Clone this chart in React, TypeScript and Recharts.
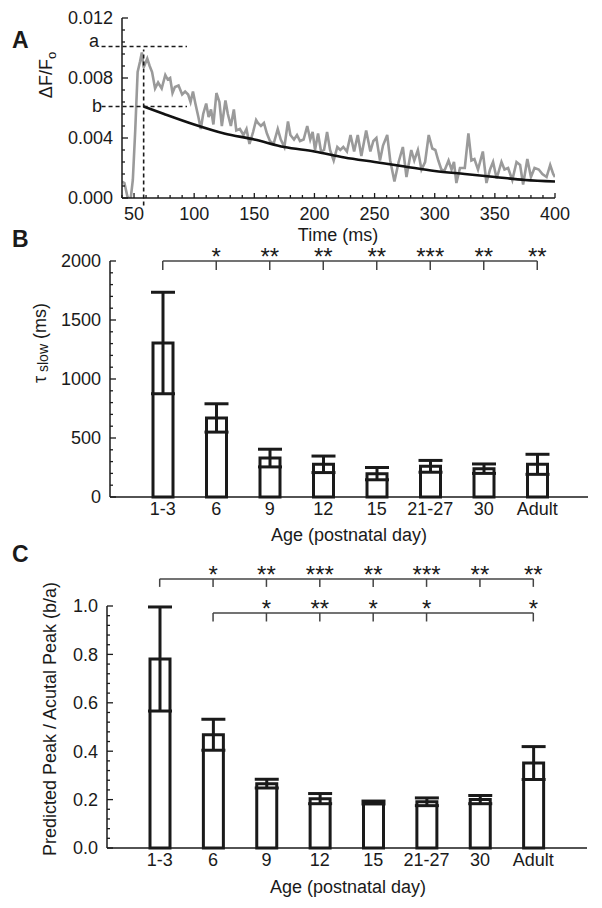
import React from 'react'
import {
  LineChart, Line, BarChart, Bar, ErrorBar, XAxis, YAxis,
  ReferenceLine, ReferenceDot,
} from 'recharts'

const FONT = '"Liberation Sans", Arial, Helvetica, sans-serif'
const INK = '#1a1a1a'

// ---- panel A: ΔF/Fo transient (ms, ΔF/Fo) ----
const traceTime = [
  40, 42, 44.5, 47, 49, 51, 53, 55, 56.5, 58, 61, 63, 65, 67.5, 70, 73, 76, 78, 80, 82,
  84, 87, 90, 92.5, 95, 97, 99, 101, 103.5, 105.5, 107.5, 110, 112, 114, 116, 118.5, 121, 123, 126, 128,
  130.5, 133, 135, 138, 141, 143.5, 146, 149, 151.5, 153, 155.5, 158, 160.5, 163, 166, 169.5, 172, 175, 178, 180,
  183, 185.5, 188, 191, 194, 196.5, 198.5, 200.5, 203, 205.5, 208, 210.5, 213, 216, 219, 221.5, 224, 227, 230, 233,
  236, 239, 243, 246.5, 249, 251.5, 254.5, 257, 260.5, 263, 266.5, 270, 273.5, 276.5, 280.5, 283, 286, 289, 292, 295,
  298, 300.5, 303, 305.5, 308, 311.5, 314, 316, 318, 321, 325, 328, 330.5, 333, 336, 340, 343, 346, 348.5, 351.5,
  355.5, 358, 361, 364.5, 368, 371, 373.5, 377, 380, 383, 386.5, 389.5, 393, 396, 398.5, 400,
]
const traceValue = [
  0.0011, 0.0010, 0.0001, -0.0002, 0.0012, 0.0045, 0.0084, 0.0091, 0.0097, 0.0087, 0.0093, 0.0088, 0.0084, 0.0073, 0.0077, 0.0073, 0.0082, 0.0079, 0.0080, 0.0070,
  0.0074, 0.0075, 0.0069, 0.0071, 0.0069, 0.0064, 0.0071, 0.0063, 0.0054, 0.0046, 0.0056, 0.0063, 0.0054, 0.0059, 0.0049, 0.0070, 0.0064, 0.0048, 0.0065, 0.0056,
  0.0048, 0.0059, 0.0045, 0.0046, 0.0042, 0.0046, 0.0036, 0.0044, 0.0052, 0.0050, 0.0048, 0.0050, 0.0043, 0.0038, 0.0036, 0.0046, 0.0039, 0.0034, 0.0051, 0.0042,
  0.0039, 0.0042, 0.0038, 0.0039, 0.0048, 0.0039, 0.0044, 0.0032, 0.0043, 0.0031, 0.0032, 0.0044, 0.0032, 0.0025, 0.0034, 0.0032, 0.0034, 0.0031, 0.0042, 0.0031,
  0.0042, 0.0028, 0.0045, 0.0031, 0.0038, 0.0040, 0.0025, 0.0035, 0.0042, 0.0025, 0.0011, 0.0024, 0.0034, 0.0014, 0.0032, 0.0025, 0.0032, 0.0019, 0.0024, 0.0042,
  0.0033, 0.0032, 0.0025, 0.0019, 0.0018, 0.0025, 0.0019, 0.0024, 0.0010, 0.0020, 0.0020, 0.0043, 0.0025, 0.0026, 0.0019, 0.0031, 0.0010, 0.0019, 0.0024, 0.0013,
  0.0024, 0.0019, 0.0020, 0.0012, 0.0024, 0.0022, 0.0009, 0.0026, 0.0014, 0.0020, 0.0019, 0.0016, 0.0014, 0.0022, 0.0016, 0.0014,
]
const fitTime = [58, 75, 100, 125, 150, 175, 200, 225, 250, 275, 300, 325, 350, 375, 400]
const fitValue = [0.0061, 0.0056, 0.0049, 0.0043, 0.0039, 0.0034, 0.0031, 0.0027, 0.0024, 0.0021, 0.0018, 0.0016, 0.0014, 0.0012, 0.0011]
const peakTime = 58
const peakA = 0.0101
const peakB = 0.0061

// ---- panels B and C ----
const ages = ['1-3', '6', '9', '12', '15', '21-27', '30', 'Adult']
const tauMean = [1305, 670, 330, 277, 198, 260, 240, 277]
const tauErr = [430, 120, 75, 70, 52, 50, 40, 85]
const tauStars = ['', '*', '**', '**', '**', '***', '**', '**']

const ratioMean = [0.781, 0.468, 0.266, 0.204, 0.188, 0.191, 0.2, 0.351]
const ratioErr = [0.215, 0.064, 0.018, 0.021, 0.006, 0.016, 0.017, 0.068]
const ratioStars1 = ['', '*', '**', '***', '**', '***', '**', '**']
const ratioStars2: (string | null)[] = [null, '', '*', '**', '*', '*', null, '*']

// tick marks
const timeTicks = Array.from({ length: 37 }, (_, i) => 40 + i * 10)
const dffTicks = Array.from({ length: 16 }, (_, i) => +(i * 0.0008).toFixed(4))
const tauTicks = Array.from({ length: 21 }, (_, i) => i * 100)
const ratioTicks = Array.from({ length: 26 }, (_, i) => +(i * 0.04).toFixed(2))

const traceData = traceTime.map((t, i) => ({ t, v: traceValue[i] }))
const fitData = fitTime.map((t, i) => ({ t, v: fitValue[i] }))
const tauData = ages.map((age, i) => ({ age, mean: tauMean[i], err: tauErr[i] }))
const ratioData = ages.map((age, i) => ({ age, mean: ratioMean[i], err: ratioErr[i] }))

const isStep = (step: number) => (v: number) => Math.abs(v / step - Math.round(v / step)) < 1e-6

function yTick(major: (v: number) => boolean, fmt: (v: number) => string) {
  return (props: any) => {
    const { x, y, payload } = props
    const v = payload.value
    const m = major(v)
    return (
      <g>
        <line x1={x} x2={x + (m ? 6 : 3)} y1={y} y2={y} stroke={INK} strokeWidth={1.3} />
        {m && (
          <text x={x - 9} y={y} dy="0.36em" textAnchor="end" fontSize={18} fill={INK} fontFamily={FONT}>
            {fmt(v)}
          </text>
        )}
      </g>
    )
  }
}

function timeTick(props: any) {
  const { x, y, payload } = props
  const v = payload.value
  const m = v % 50 === 0
  return (
    <g>
      <line x1={x} x2={x} y1={y} y2={y - (m ? 5 : 3)} stroke={INK} strokeWidth={1.3} />
      {m && (
        <text x={x} y={y + 22} textAnchor="middle" fontSize={18} fill={INK} fontFamily={FONT}>{v}</text>
      )}
    </g>
  )
}

function bracket(key: string, cats: string[], stars: string[], y: number, drop: number) {
  const line = { stroke: '#444', strokeWidth: 1.5, ifOverflow: 'visible' as const }
  const els = [
    <ReferenceLine key={key + 'h'} segment={[{ x: cats[0], y }, { x: cats[cats.length - 1], y }]} {...line} />,
  ]
  cats.forEach((c, i) => {
    els.push(<ReferenceLine key={key + 't' + c} segment={[{ x: c, y }, { x: c, y: y - drop }]} {...line} />)
    if (stars[i]) {
      els.push(
        <ReferenceDot
          key={key + 's' + c} x={c} y={y} r={0} ifOverflow="visible" fill="none" stroke="none"
          label={{ value: stars[i], position: 'top', offset: -4, fontSize: 24, fill: INK, fontFamily: FONT }}
        />,
      )
    }
  })
  return els
}

const axisLine = { stroke: INK, strokeWidth: 1.5 }
const dash = { stroke: INK, strokeWidth: 1.6, strokeDasharray: '4 3', ifOverflow: 'visible' as const }

function PanelA() {
  return (
    <LineChart width={602} height={250} margin={{ top: 18, right: 47, left: 0, bottom: 0 }}>
      <XAxis
        type="number" dataKey="t" domain={[40, 400]} allowDataOverflow ticks={timeTicks} interval={0}
        height={52} tickSize={0} tickMargin={0} tickLine={false} axisLine={axisLine} tick={timeTick}
      />
      <YAxis
        type="number" domain={[0, 0.012]} allowDataOverflow ticks={dffTicks} interval={0}
        width={122} tickSize={0} tickMargin={0} tickLine={false} axisLine={axisLine}
        tick={yTick(isStep(0.004), (v) => v.toFixed(3))}
      />
      <Line data={traceData} dataKey="v" type="linear" stroke="#9a9a9a" strokeWidth={2.6} dot={false} isAnimationActive={false} />
      <Line data={fitData} dataKey="v" type="monotone" stroke="#111" strokeWidth={2.6} dot={false} isAnimationActive={false} />
      <ReferenceLine segment={[{ x: 23, y: peakA }, { x: 94, y: peakA }]} {...dash} />
      <ReferenceLine segment={[{ x: 23, y: peakB }, { x: 94, y: peakB }]} {...dash} />
      <ReferenceLine segment={[{ x: peakTime, y: -0.0005 }, { x: peakTime, y: 0.0099 }]} {...dash} />
    </LineChart>
  )
}

function PanelB() {
  return (
    <BarChart width={602} height={300} data={tauData} margin={{ top: 31, right: 14, left: 0, bottom: 0 }}>
      <XAxis
        dataKey="age" height={33} padding={{ left: 26, right: 24 }} tickLine={false} tickSize={0} tickMargin={5}
        axisLine={axisLine} interval={0} tick={{ fill: INK, fontSize: 18, fontFamily: FONT }}
      />
      <YAxis
        type="number" domain={[0, 2000]} ticks={tauTicks} interval={0} width={110}
        tickSize={0} tickMargin={0} tickLine={false} axisLine={axisLine}
        tick={yTick(isStep(500), (v) => String(v))}
      />
      <Bar dataKey="mean" barSize={20} fill="#fff" stroke={INK} strokeWidth={3} isAnimationActive={false}>
        <ErrorBar dataKey="err" width={12} stroke={INK} strokeWidth={3} direction="y" />
      </Bar>
      {bracket('b', ages, tauStars, 2000, 76)}
    </BarChart>
  )
}

function PanelC() {
  const cats2 = ages.filter((_, i) => ratioStars2[i] !== null)
  const stars2 = ratioStars2.filter((s) => s !== null) as string[]
  return (
    <BarChart width={602} height={340} data={ratioData} margin={{ top: 66, right: 15, left: 0, bottom: 0 }}>
      <XAxis
        dataKey="age" height={32} padding={{ left: 26, right: 27 }} tickLine={false} tickSize={0} tickMargin={5}
        axisLine={axisLine} interval={0} tick={{ fill: INK, fontSize: 18, fontFamily: FONT }}
      />
      <YAxis
        type="number" domain={[0, 1]} ticks={ratioTicks} interval={0} width={107}
        tickSize={0} tickMargin={0} tickLine={false} axisLine={axisLine}
        tick={yTick(isStep(0.2), (v) => v.toFixed(1))}
      />
      <Bar dataKey="mean" barSize={20} fill="#fff" stroke={INK} strokeWidth={3} isAnimationActive={false}>
        <ErrorBar dataKey="err" width={12} stroke={INK} strokeWidth={3} direction="y" />
      </Bar>
      {bracket('c1', ages, ratioStars1, 1.112, 0.033)}
      {bracket('c2', cats2, stars2, 0.971, 0.035)}
    </BarChart>
  )
}

export default function App() {
  const txt = { fontFamily: FONT, fill: INK, fontSize: 18 }
  return (
    <div style={{ position: 'absolute', left: 0, top: 0, width: 602, height: 908, background: '#fff', overflow: 'hidden' }}>
      <div style={{ position: 'absolute', left: 0, top: 0 }}><PanelA /></div>
      <div style={{ position: 'absolute', left: 0, top: 230 }}><PanelB /></div>
      <div style={{ position: 'absolute', left: 0, top: 540 }}><PanelC /></div>
      <svg width={602} height={908} style={{ position: 'absolute', left: 0, top: 0, pointerEvents: 'none' }}>
        <text x={12} y={48} {...txt} fontSize={23} fontWeight="bold">A</text>
        <text x={12} y={247} {...txt} fontSize={23} fontWeight="bold">B</text>
        <text x={12} y={562} {...txt} fontSize={23} fontWeight="bold">C</text>

        <text x={94} y={47} {...txt} textAnchor="middle">a</text>
        <text x={97} y={112} {...txt} textAnchor="middle">b</text>

        <text transform="translate(52,75) rotate(-90)" {...txt} textAnchor="middle">
          ΔF/F<tspan fontSize={13} dy={4}>o</tspan>
        </text>
        <text x={338} y={241} {...txt} textAnchor="middle">Time (ms)</text>

        <text transform="translate(46,343) rotate(-90)" {...txt} textAnchor="middle">
          τ<tspan fontSize={14} dy={2}> slow</tspan><tspan dy={-2}> (ms)</tspan>
        </text>
        <text x={349} y={541} {...txt} textAnchor="middle">Age (postnatal day)</text>

        <text transform="translate(56,719) rotate(-90)" {...txt} textAnchor="middle">
          Predicted Peak / Acutal Peak (b/a)
        </text>
        <text x={348} y={893} {...txt} textAnchor="middle">Age (postnatal day)</text>
      </svg>
    </div>
  )
}
